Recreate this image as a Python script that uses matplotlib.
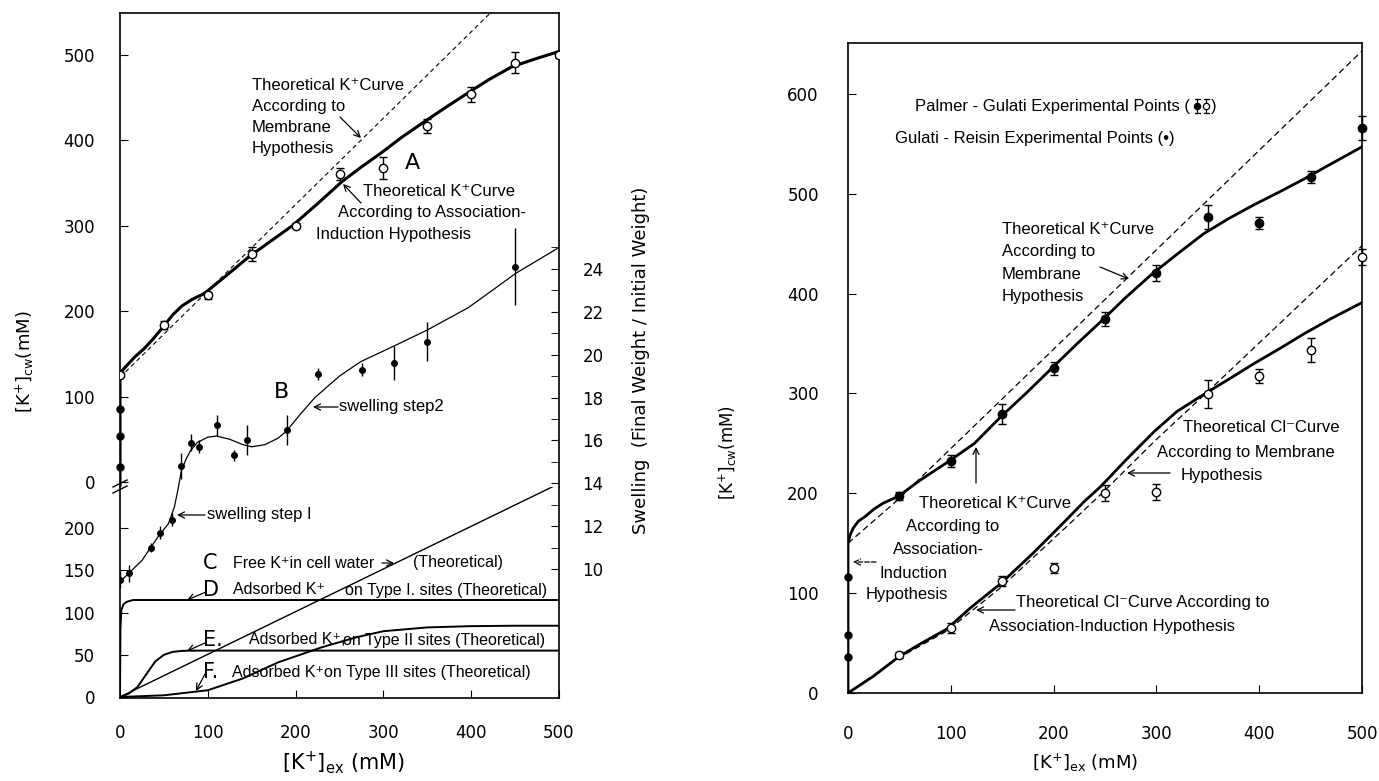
import numpy as np
import matplotlib.pyplot as plt
from matplotlib.lines import Line2D

plt.rcParams['font.family'] = ['DejaVu Sans']
NARROW = ['Liberation Sans', 'DejaVu Sans']

# ---------------- left panel data ----------------
# curve A : K+ in cell water (upper section of broken axis)
a_x = [0, 50, 100, 150, 200, 250, 300, 350, 400, 450, 500]
a_y = [126, 184, 219, 267, 300, 361, 368, 417, 454, 491, 500]
a_err = [3, 5, 4, 8, 3, 7, 13, 8, 9, 12, 4]
a0_y = [18, 54, 86]          # filled points at [K+]ex = 0

a_ai_x = [0, 0, 8, 17, 27, 37, 50, 60, 70, 82, 96, 120, 147, 170, 196, 225,
          253, 275, 297, 320, 344, 370, 397, 420, 446, 475, 500]
a_ai_y = [-8, 128, 137, 147, 156, 167, 183, 196, 206, 214, 221, 241, 264, 281,
          300, 326, 352, 369, 385, 403, 420, 438, 456, 471, 486, 496, 504]
a_mem_x = [0, 500]
a_mem_y = [123, 628]

# curve B : swelling (right axis)
sw_x = [0, 10, 35, 45, 59, 70, 81, 90, 110, 130, 145, 190, 226, 276, 312, 350, 450]
sw_y = [9.5, 9.8, 11.0, 11.7, 12.3, 14.8, 15.9, 15.7, 16.7, 15.3, 16.0, 16.5,
        19.1, 19.3, 19.6, 20.6, 24.1]
sw_err = [0.4, 0.4, 0.2, 0.3, 0.3, 0.6, 0.4, 0.3, 0.5, 0.25, 0.7, 0.7, 0.3, 0.3,
          0.8, 0.9, 1.8]
swc_x = [0, 10, 25, 35, 45, 55, 62, 66, 70, 75, 80, 88, 100, 110, 125, 140, 150,
         165, 180, 190, 205, 222, 250, 274, 312, 350, 397, 451, 500]
swc_y = [9.4, 9.8, 10.4, 11.0, 11.6, 12.1, 12.9, 13.7, 14.6, 15.1, 15.5, 15.9,
         16.15, 16.2, 16.05, 15.8, 15.7, 15.8, 16.1, 16.45, 17.2, 18.0, 19.0,
         19.67, 20.4, 21.15, 22.2, 23.8, 25.0]

# curves C-F (lower section)
c_x = [0, 500]
c_y = [0, 253]
d_x = [0, 0.5, 1.5, 4, 8, 15, 500]
d_y = [0, 80, 103, 110, 113, 115, 115]
e_x = [0, 10, 20, 30, 40, 50, 60, 70, 80, 500]
e_y = [0, 4, 12, 27, 42, 50, 53.5, 54.6, 55, 55]
f_x = [0, 50, 100, 140, 180, 230, 270, 300, 350, 400, 450, 500]
f_y = [0, 2, 8, 22, 41, 59, 71, 78, 82.5, 84, 84.5, 84.5]

# ---------------- right panel data ----------------
k_x = [50, 100, 150, 200, 250, 300, 350, 400, 450, 500]
k_y = [197, 232, 279, 325, 375, 421, 477, 471, 517, 566]
k_err = [4, 6, 10, 7, 7, 8, 12, 6, 6, 12]
k0_y = [36, 58, 116]         # Gulati-Reisin points at [K+]ex = 0
cl_x = [50, 100, 150, 200, 250, 300, 350, 400, 450, 500]
cl_y = [38, 65, 112, 125, 200, 201, 299, 317, 344, 437]
cl_err = [3, 5, 5, 5, 8, 8, 14, 7, 12, 8]

k_ai_x = [0, 0, 2, 5, 10, 17, 25, 34, 49, 70, 98, 123, 149, 173, 197, 222, 247,
          270, 295, 322, 346, 370, 395, 420, 444, 470, 500]
k_ai_y = [0, 150, 158, 165, 172, 177, 184, 190, 197, 213, 232, 250, 277, 300,
          324, 349, 373, 396, 419, 441, 460, 475, 489, 502, 515, 530, 547]
k_mem_x = [0, 48, 500]
k_mem_y = [150, 193, 643]
cl_ai_x = [0, 25, 49, 70, 96, 120, 149, 180, 212, 230, 246, 270, 298, 320, 346,
           370, 395, 420, 444, 470, 500]
cl_ai_y = [0, 17, 36, 49, 64, 86, 110, 140, 173, 192, 207, 233, 262, 282, 299,
           314, 330, 345, 360, 375, 391]
cl_mem_x = [0, 49, 96, 149, 212, 246, 298, 346, 500]
cl_mem_y = [0, 35, 62, 106, 166, 199, 252, 298, 448]

W, H = 1379, 781
fig = plt.figure(figsize=(W / 100, H / 100), dpi=100)


def P(px, py):
    return (px / W, 1 - py / H)


def box(x0, y0, x1, y1):
    return [x0 / W, 1 - y1 / H, (x1 - x0) / W, (y1 - y0) / H]


def txt(px, py, s, size=12, fam=NARROW, ha='left'):
    fig.text(*P(px, py), s, fontsize=size, family=fam, va='center', ha=ha)


def arrow(ax, x0, y0, x1, y1, ls='-'):
    ax.annotate('', xy=P(x1, y1), xytext=P(x0, y0), xycoords='figure fraction',
                textcoords='figure fraction', annotation_clip=False,
                arrowprops=dict(arrowstyle='->', lw=0.9, color='k', ls=ls,
                                shrinkA=0, shrinkB=0, mutation_scale=11))


ax_up = fig.add_axes(box(120, 13, 559, 487))
ax_lo = fig.add_axes(box(120, 487, 559, 698))
ax_sw = fig.add_axes(box(120, 13, 559, 698), facecolor='none')
ax_r = fig.add_axes(box(848, 43, 1362, 693))

for ax in (ax_up, ax_lo, ax_sw, ax_r):
    for s in ax.spines.values():
        s.set_linewidth(1.2)

# ---- upper left ----
ax_up.set_xlim(0, 500)
ax_up.set_ylim(-5.3, 549)
ax_up.spines['bottom'].set_visible(False)
ax_up.plot(a_mem_x, a_mem_y, 'k--', lw=0.8, dashes=(4, 3))
ax_up.plot(a_ai_x, a_ai_y, 'k-', lw=2.2)
ax_up.errorbar(a_x, a_y, yerr=a_err, fmt='o', ms=6, mfc='white', mec='k',
               ecolor='k', elinewidth=1, capsize=3, capthick=1, zorder=5)
ax_up.plot([0] * len(a0_y), a0_y, 'ko', ms=5, clip_on=False, zorder=5)
ax_up.set_xticks([])
ax_up.set_yticks(range(0, 501, 100))
ax_up.tick_params(axis='y', direction='in', length=6, pad=18, labelsize=12)

# ---- lower left ----
ax_lo.set_xlim(0, 500)
ax_lo.set_ylim(-1.2, 249)
ax_lo.spines['top'].set_visible(False)
ax_lo.plot(c_x, c_y, 'k-', lw=1.0)
ax_lo.plot(d_x, d_y, 'k-', lw=1.4)
ax_lo.plot(e_x, e_y, 'k-', lw=1.4)
ax_lo.plot(f_x, f_y, 'k-', lw=1.4)
ax_lo.set_xticks(range(0, 501, 100))
ax_lo.set_yticks(range(0, 201, 50))
ax_lo.tick_params(direction='in', length=6, labelsize=12)
ax_lo.tick_params(axis='y', pad=18)
ax_lo.tick_params(axis='x', pad=19)

# ---- swelling overlay ----
ax_sw.set_xlim(0, 500)
ax_sw.set_ylim(3.98, 35.94)
for s in ax_sw.spines.values():
    s.set_visible(False)
ax_sw.set_xticks([])
ax_sw.plot(swc_x, swc_y, 'k-', lw=0.9)
ax_sw.errorbar(sw_x, sw_y, yerr=sw_err, fmt='o', ms=4, color='k',
               elinewidth=1, capsize=0, zorder=5)
ax_sw.yaxis.tick_right()
ax_sw.set_yticks(range(10, 25, 2))
ax_sw.set_yticks(range(11, 26, 2), minor=True)
ax_sw.tick_params(axis='y', which='both', direction='in', length=6,
                  left=False, right=True, labelleft=False, labelright=True,
                  pad=17, labelsize=12)

# break mark on the left axis
for dy in (-3, 3):
    fig.add_artist(Line2D([113 / W, 127 / W], [1 - (490 + dy) / H, 1 - (483 + dy) / H],
                          color='k', lw=1.0))

# labels left
fig.text(*P(25, 362), r'$[\mathrm{K}^{+}]_{\mathrm{cw}}$(mM)', rotation=90,
         fontsize=13, ha='center', va='center')
fig.text(*P(641, 360), 'Swelling  (Final Weight / Initial Weight)', rotation=90,
         fontsize=13, ha='center', va='center')
fig.text(*P(343, 763), r'$[\mathrm{K}^{+}]_{\mathrm{ex}}$ (mM)', fontsize=15,
         ha='center', va='center')

# annotations left (arrows go on ax_sw, which covers the whole left panel)
for i, line in enumerate(['Theoretical K\u207aCurve', 'According to', 'Membrane', 'Hypothesis']):
    txt(252, 85 + i * 21, line)
arrow(ax_sw, 340, 117, 361, 138)
txt(405, 163, 'A', size=16, fam=['DejaVu Sans'])
txt(363, 192, 'Theoretical K\u207aCurve')
txt(338, 213, 'According to Association-')
txt(316, 234, 'Induction Hypothesis')
arrow(ax_sw, 361, 203, 343, 184)
txt(274, 392, 'B', size=16, fam=['DejaVu Sans'])
txt(339, 407, 'swelling step2')
arrow(ax_sw, 338, 407, 313, 407)
txt(207, 515, 'swelling step I')
arrow(ax_sw, 205, 515, 177, 515)
txt(203, 563, 'C', size=15, fam=['DejaVu Sans'])
txt(233, 563, 'Free K\u207ain cell water', size=11.5)
arrow(ax_sw, 382, 563, 394, 563)
txt(413, 563, '(Theoretical)', size=11.5)
txt(203, 590, 'D', size=15, fam=['DejaVu Sans'])
txt(233, 590, 'Adsorbed K\u207a', size=11.5)
txt(345, 590, 'on Type I. sites (Theoretical)', size=11.5)
arrow(ax_sw, 206, 592, 187, 600)
txt(203, 640, 'E.', size=15, fam=['DejaVu Sans'])
txt(249, 640, 'Adsorbed K\u207a,', size=11.5)
txt(343, 640, 'on Type II sites (Theoretical)', size=11.5)
arrow(ax_sw, 205, 643, 187, 651)
txt(203, 672, 'F.', size=15, fam=['DejaVu Sans'])
txt(232, 672, 'Adsorbed K\u207aon Type III sites (Theoretical)', size=11.5)
arrow(ax_sw, 205, 674, 196, 691)

# ---- right panel ----
ax_r.set_xlim(0, 500)
ax_r.set_ylim(0, 651)
ax_r.plot(k_mem_x, k_mem_y, 'k--', lw=0.9, dashes=(5, 3))
ax_r.plot(cl_mem_x, cl_mem_y, 'k--', lw=0.9, dashes=(5, 3))
ax_r.plot(k_ai_x, k_ai_y, 'k-', lw=2.0)
ax_r.plot(cl_ai_x, cl_ai_y, 'k-', lw=2.0)
ax_r.errorbar(k_x, k_y, yerr=k_err, fmt='o', ms=6, color='k', ecolor='k',
              elinewidth=1, capsize=3, capthick=1, zorder=5, clip_on=False)
ax_r.errorbar(cl_x, cl_y, yerr=cl_err, fmt='o', ms=6, mfc='white', mec='k',
              ecolor='k', elinewidth=1, capsize=3, capthick=1, zorder=5, clip_on=False)
ax_r.plot([0] * len(k0_y), k0_y, 'ko', ms=5, clip_on=False, zorder=5)
ax_r.set_xticks(range(0, 501, 100))
ax_r.set_yticks(range(0, 601, 100))
ax_r.tick_params(direction='in', length=6, labelsize=12)
ax_r.tick_params(axis='y', pad=21)
ax_r.tick_params(axis='x', pad=23)

fig.text(*P(728, 453), r'$[\mathrm{K}^{+}]_{\mathrm{cw}}$(mM)', rotation=90,
         fontsize=12, ha='center', va='center')
fig.text(*P(1085, 763), r'$[\mathrm{K}^{+}]_{\mathrm{ex}}$ (mM)', fontsize=13,
         ha='center', va='center')

# legend lines; the error-barred circles have no glyph in the installed fonts,
# so they are drawn as small shapes between the brackets
txt(1190, 106, 'Palmer - Gulati Experimental Points (', ha='right')
for gx, face in ((1197, 'k'), (1206, 'white')):
    fig.add_artist(Line2D([gx / W] * 2, [1 - 99 / H, 1 - 113 / H], color='k', lw=0.9))
    for cy in (99, 113):
        fig.add_artist(Line2D([(gx - 2.5) / W, (gx + 2.5) / W], [1 - cy / H] * 2,
                              color='k', lw=0.9))
    fig.add_artist(Line2D([gx / W], [1 - 106 / H], marker='o', ms=4.5,
                          mfc=face, mec='k', mew=0.9))
txt(1211, 106, ')')
txt(895, 138, 'Gulati - Reisin Experimental Points (\u2022)')
for i, line in enumerate(['Theoretical K\u207aCurve', 'According to', 'Membrane', 'Hypothesis']):
    txt(1002, 229 + i * 22.5, line)
arrow(ax_r, 1100, 267, 1129, 279)
for (px, py), line in zip([(919, 503), (906, 526), (893, 549), (879, 573), (866, 594)],
                          ['Theoretical K\u207aCurve', 'According to', 'Association-',
                           'Induction', 'Hypothesis']):
    txt(px, py, line)
arrow(ax_r, 976, 483, 976, 447)
arrow(ax_r, 876, 562, 853, 562, ls='--')
txt(1183, 428, 'Theoretical Cl\u207bCurve')
txt(1157, 452, 'According to Membrane')
txt(1181, 476, 'Hypothesis')
arrow(ax_r, 1170, 473, 1127, 473)
txt(1016, 602, 'Theoretical Cl\u207bCurve According to')
txt(989, 627, 'Association-Induction Hypothesis')
arrow(ax_r, 1015, 610, 976, 610)

fig.savefig('out.png', dpi=100)
